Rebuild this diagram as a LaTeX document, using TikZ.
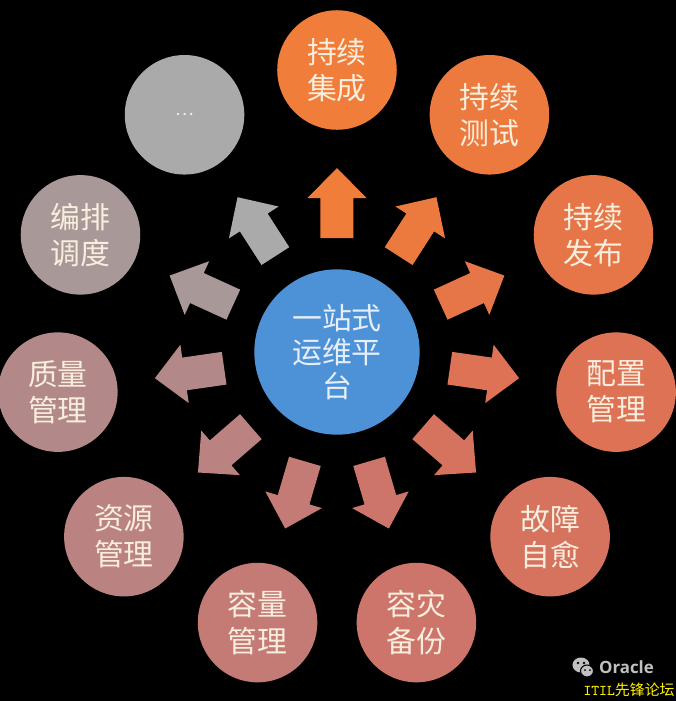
\documentclass[tikz,border=0pt]{standalone}
\usepackage{fontspec}
\setmainfont{Noto Sans CJK SC}
\newfontfamily\markfont{Open Sans}
\usetikzlibrary{positioning, calc}
\definecolor{hubblue}{RGB}{77,145,215}
\definecolor{ring0}{RGB}{240,125,58}
\definecolor{ring1}{RGB}{236,122,62}
\definecolor{ring2}{RGB}{230,118,72}
\definecolor{ring3}{RGB}{222,114,84}
\definecolor{ring4}{RGB}{213,115,94}
\definecolor{ring5}{RGB}{205,117,106}
\definecolor{ring6}{RGB}{196,122,117}
\definecolor{ring7}{RGB}{186,130,128}
\definecolor{ring8}{RGB}{178,136,136}
\definecolor{ring9}{RGB}{168,152,152}
\definecolor{ring10}{RGB}{170,170,170}
\definecolor{ringtext}{RGB}{248,238,222}
\definecolor{hubtext}{RGB}{230,238,248}
\definecolor{marktext}{RGB}{192,192,192}

\begin{document}
\begin{tikzpicture}[x=0.02cm, y=0.02cm,
    ringnode/.style={circle, minimum size=120*0.5669pt, inner sep=0pt, align=center,
        text=ringtext, font=\fontsize{17}{20.5}\selectfont},
    hubnode/.style={circle, fill=hubblue, minimum size=166*0.5669pt, inner sep=0pt,
        align=center, text=hubtext, font=\fontsize{17}{19.5}\selectfont}]
% background and page size
\fill[black] (-337,-349) rectangle (339,352);
\useasboundingbox (-337,-349) rectangle (339,352);

\node[hubnode] (hub) at (0,0) {一站式\\运维平\\台};

\foreach \k/\lbl in {0/{持续\\集成}, 1/{持续\\测试}, 2/{持续\\发布}, 3/{配置\\管理},
        4/{故障\\自愈}, 5/{容灾\\备份}, 6/{容量\\管理}, 7/{资源\\管理},
        8/{质量\\管理}, 9/{编排\\调度}, 10/{{\fontsize{10}{12}\selectfont\ldots}}} {
    \pgfmathsetmacro{\ang}{90-\k*360/11}
    \node[ringnode, fill=ring\k] (ring\k) at (\ang:282) {\lbl};
    \fill[ring\k, rotate=\ang] (114,-16.5) -- (154,-16.5) -- (154,-29.5) -- (184,0)
        -- (154,29.5) -- (154,16.5) -- (114,16.5) -- cycle;
}

% watermark
\fill[marktext] (244,-313) ellipse (8.5 and 7.5);
\filldraw[marktext, draw=black, line width=0.6] (250,-319) ellipse (6.5 and 6);
\fill[black] (241,-311) circle (1.3) (247,-311) circle (1.3);
\fill[black] (248,-318) circle (1) (253,-318) circle (1);
\node[text=marktext, font=\markfont\bfseries\fontsize{9.6}{10}\selectfont, inner sep=0pt]
    (oracle) at (289.5,-315) {Oracle};
\node[text=yellow, font=\fontsize{8.5}{9}\selectfont, anchor=east, inner sep=0pt]
    (forum) at (338,-338) {{\ttfamily ITIL}先锋论坛};
\end{tikzpicture}
\end{document}
